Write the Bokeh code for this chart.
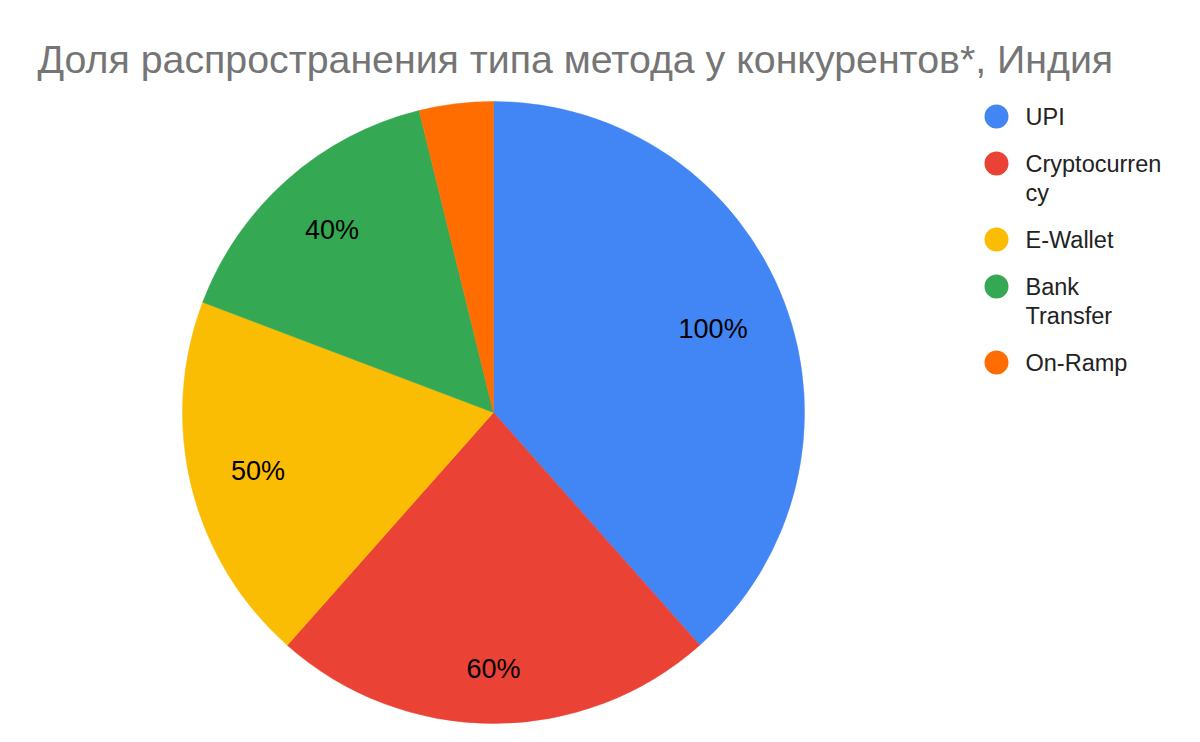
import numpy as np
from bokeh.plotting import figure
from bokeh.models import ColumnDataSource, Range1d
from bokeh.core.properties import value
from bokeh.embed import file_html
from bokeh.resources import INLINE

# ---- data ----
title_text = "Доля распространения типа метода у конкурентов*, Индия"
categories = ["UPI", "Cryptocurrency", "E-Wallet", "Bank Transfer", "On-Ramp"]
legend_lines = [["UPI"], ["Cryptocurren", "cy"], ["E-Wallet"], ["Bank", "Transfer"], ["On-Ramp"]]
values = [100, 60, 50, 40, 10]
colors = ["#4285F4", "#EA4335", "#FBBC04", "#34A853", "#FF6D01"]

# ---- layout (pixel space of the page frame) ----
W, H = 1184, 726
def px(rx):
    return rx
def py(ry):
    return H - ry

FONT = "Liberation Sans"
cx, cy, R = px(493), py(412), 311

p = figure(width=W, height=H, x_range=Range1d(0, W), y_range=Range1d(0, H),
           output_backend="svg", toolbar_location=None,
           x_axis_type=None, y_axis_type=None, min_border=0)
p.outline_line_color = None
p.xgrid.visible = False
p.ygrid.visible = False
p.background_fill_color = "white"

vals = np.array(values, dtype=float)
total = vals.sum()
frac = vals / total
cum_end = np.cumsum(frac) * 2 * np.pi
cum_start = cum_end - frac * 2 * np.pi
start_angle = np.pi / 2 - cum_end
end_angle = np.pi / 2 - cum_start

src = ColumnDataSource(dict(start=start_angle, end=end_angle, color=colors, cat=categories))
p.wedge(x=cx, y=cy, radius=R, start_angle="start", end_angle="end",
        direction="anticlock", fill_color="color", line_color="color", line_width=0.5,
        source=src)

# ---- slice labels ----
fs = 27
D = 0.875 * R
lx, ly, lt = [], [], []
for v, f, s, e in zip(values, frac, start_angle, end_angle):
    if f < 0.05:
        continue
    txt = f"{v}%"
    mid = (s + e) / 2
    ux, uy = np.cos(mid), np.sin(mid)
    w = (0.556 * (len(txt) - 1) + 0.889) * fs / 2
    h = 0.52 * fs
    # solve (d|ux|+w)^2 + (d|uy|+h)^2 = D^2
    a = ux ** 2 + uy ** 2
    b = 2 * (abs(ux) * w + abs(uy) * h)
    c = w ** 2 + h ** 2 - D ** 2
    d = (-b + np.sqrt(b * b - 4 * a * c)) / (2 * a)
    lx.append(cx + d * ux)
    ly.append(cy + d * uy)
    lt.append(txt)
p.text(x=lx, y=ly, text=lt, text_font=value(FONT), text_font_size=f"{fs}px",
       text_color="#000000", text_align="center", text_baseline="middle")

# ---- title ----
p.text(x=[px(37)], y=[py(58)], text=[title_text], text_font=value(FONT),
       text_font_size="39.3px", text_color="#757575", text_align="left",
       text_baseline="middle")

# ---- legend ----
ry = 116
mx, my, tx, ty, tt = [], [], [], [], []
for lines in legend_lines:
    mx.append(px(996))
    my.append(py(ry))
    for i, ln in enumerate(lines):
        tx.append(px(1025))
        ty.append(py(ry + 29 * i))
        tt.append(ln)
    ry += 47 + 29 * (len(lines) - 1)
p.scatter(x=mx, y=my, size=24, marker="circle", fill_color=colors, line_color=None)
p.text(x=tx, y=ty, text=tt, text_font=value(FONT), text_font_size="23.5px",
       text_color="#222222", text_align="left", text_baseline="middle")

open("out.html", "w").write(file_html(p, INLINE))
